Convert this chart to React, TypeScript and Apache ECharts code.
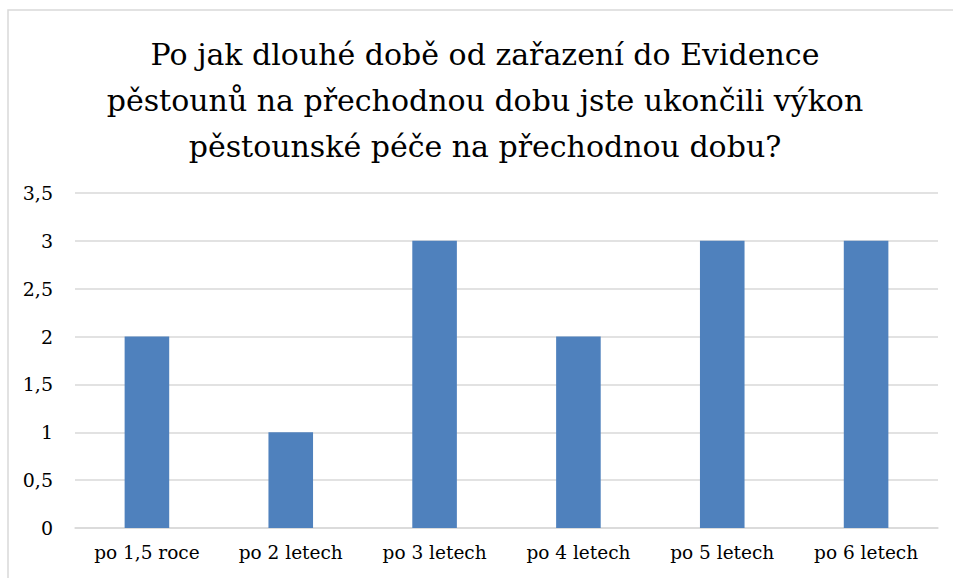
import React, { useEffect, useRef } from "react";
import * as echarts from "echarts";

const categories = ["po 1,5 roce", "po 2 letech", "po 3 letech", "po 4 letech", "po 5 letech", "po 6 letech"];
const values = [2, 1, 3, 2, 3, 3];
const titleLines = [
  "Po jak dlouhé době od zařazení do Evidence",
  "pěstounů na přechodnou dobu jste ukončili výkon",
  "pěstounské péče na přechodnou dobu?",
];

export default function App() {
  const ref = useRef<HTMLDivElement>(null);
  useEffect(() => {
    document.body.style.margin = "0";
    const chart = echarts.init(ref.current!, null, { renderer: "svg" });
    const font = "DejaVu Serif";
    chart.setOption({
      animation: false,
      backgroundColor: "#ffffff",
      textStyle: { fontFamily: font },
      graphic: [
        {
          type: "rect",
          shape: { x: 8, y: 10, width: 960, height: 600 },
          style: { fill: "none", stroke: "#d9d9d9", lineWidth: 1.5 },
          silent: true,
        },
      ],
      title: {
        text: titleLines.join("\n"),
        left: 480,
        textAlign: "center",
        top: 26,
        textStyle: {
          fontFamily: font,
          fontSize: 30,
          fontWeight: "normal",
          color: "#000000",
          lineHeight: 46,
        },
      },
      grid: { left: 75, right: 15, top: 193, bottom: 50, containLabel: false },
      xAxis: {
        type: "category",
        data: categories,
        axisLine: { show: true, lineStyle: { color: "#d9d9d9", width: 1.5 } },
        axisTick: { show: false },
        axisLabel: { fontFamily: font, fontSize: 18.5, color: "#000000", margin: 15, interval: 0 },
      },
      yAxis: {
        type: "value",
        min: 0,
        max: 3.5,
        interval: 0.5,
        axisLine: { show: false },
        axisTick: { show: false },
        splitLine: { lineStyle: { color: "#d9d9d9", width: 1.5 } },
        axisLabel: {
          fontFamily: font,
          fontSize: 19,
          color: "#000000",
          margin: 22,
          formatter: (v: number) => String(v).replace(".", ","),
        },
      },
      series: [
        {
          type: "bar",
          data: values,
          barWidth: "31%",
          itemStyle: { color: "#4f81bd" },
        },
      ],
    });
    return () => chart.dispose();
  }, []);
  return <div ref={ref} style={{ width: 953, height: 578 }} />;
}
